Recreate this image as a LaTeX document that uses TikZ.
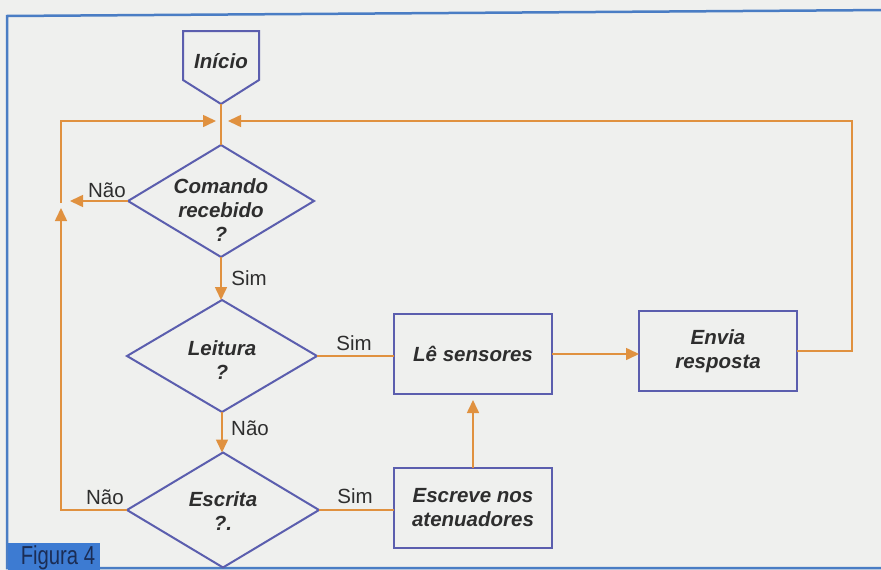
\documentclass[tikz,border=0pt]{standalone}
\usepackage{fontspec}
\setmainfont{Liberation Sans}
\usetikzlibrary{shapes.geometric,arrows.meta}
\definecolor{bg}{HTML}{EFF0EE}
\definecolor{frameblue}{HTML}{4A7DC4}
\definecolor{shapeblue}{HTML}{5B5EAE}
\definecolor{orange1}{HTML}{E0913F}
\definecolor{txt}{HTML}{2E2E2E}
\definecolor{figblue}{HTML}{3D7BD2}
\definecolor{figtxt}{HTML}{1B2D55}
\begin{document}
\begin{tikzpicture}[x=1pt,y=-1pt,
  flow/.style={draw=shapeblue, line width=2pt, fill=bg},
  dia/.style={flow, diamond, inner sep=0pt, outer sep=0pt},
  ntext/.style={text=txt, font=\fontsize{20.5}{24}\selectfont\bfseries\itshape, align=center, inner sep=0pt},
  box/.style={flow, rectangle, minimum width=158pt, minimum height=80pt, inner sep=0pt, outer sep=0pt, ntext},
  lbl/.style={text=txt, font=\fontsize{20.5}{24}\selectfont, inner sep=0pt},
  con/.style={draw=orange1, line width=1.6pt},
  arr/.style={con, -{Triangle[length=13pt,width=12pt]}}
]
\useasboundingbox (0,0) rectangle (881,570);
\fill[bg] (0,0) rectangle (881,570);
\draw[frameblue, line width=2.5pt] (890,10) -- (7,16) -- (7,568) -- (890,568);

% Inicio
\draw[flow] (183,31) -- (259,31) -- (259,80) -- (221,104) -- (183,80) -- cycle;
\node[ntext] (ini) at (221,61) {Início};
\coordinate (initip) at (221,104);

% decisions
\node[dia, minimum width=186pt, minimum height=112pt] (d1) at (221,201) {};
\node[ntext] (t1) at (221,210) {Comando\\recebido\\?};
\node[dia, minimum width=190pt, minimum height=112pt] (d2) at (222,356) {};
\node[ntext] (t2) at (222,360) {Leitura\\?};
\node[dia, minimum width=192pt, minimum height=115pt] (d3) at (223,510) {};
\node[ntext] (t3) at (223,511) {Escrita\\?.};

% processes
\node[box] (le) at (473,354) {Lê sensores};
\node[box] (en) at (718,351) {Envia\\resposta};
\node[box] (es) at (473,508) {Escreve nos\\atenuadores};

% helper coordinates
\coordinate (lt) at (61,121);
\coordinate (lm) at (61,203);
\coordinate (ltip) at (216,121);
\coordinate (rt) at (852,121);
\coordinate (rtip) at (228,121);
\coordinate (naotip) at (70,201);
\coordinate (uptip) at (61,208);

% connectors
\draw[con] (initip) -- (initip |- d1.north);
\draw[arr] (lm) -- (lt) -- (ltip);
\draw[arr] (en.east) -| (rt) -- (rtip);
\draw[arr] (d1.west) -- (naotip);
\draw[arr] (d3.west) -| (uptip);
\draw[arr] (d1.south) -- (d1.south |- d2.north);
\draw[con] (d2.east) -- (d2.east -| le.west);
\draw[arr] (le.east) -- (le.east -| en.west);
\draw[arr] (d2.south) -- (d2.south |- d3.north);
\draw[con] (d3.east) -- (d3.east -| es.west);
\draw[arr, shorten >=6pt] (es.north) -- (le.south);

% labels
\node[lbl] (l1) at (107,190) {Não};
\node[lbl] (l2) at (249,278) {Sim};
\node[lbl] (l3) at (354,343) {Sim};
\node[lbl] (l4) at (250,428) {Não};
\node[lbl] (l5) at (105,497) {Não};
\node[lbl] (l6) at (355,496) {Sim};

% figure tag
\node[fill=figblue, anchor=north west, minimum width=92pt, minimum height=28pt, inner sep=0pt] (fig) at (8,543) {};
\node[text=figtxt, font=\fontsize{26}{28}\selectfont, inner sep=0pt] (figt) at (58,558) {\scalebox{0.78}[1]{Figura 4}};
\end{tikzpicture}
\end{document}
